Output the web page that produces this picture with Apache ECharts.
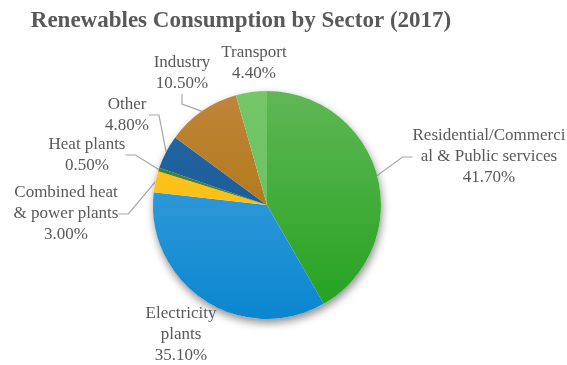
<!DOCTYPE html>
<html>
<head>
<meta charset="utf-8">
<script src="https://cdn.jsdelivr.net/npm/echarts@6/dist/echarts.min.js"></script>
<style>
  html, body { margin: 0; padding: 0; background: #ffffff; }
  #chart { width: 567px; height: 365px; }
</style>
</head>
<body>
<div id="chart"></div>
<script>
// Renewables consumption by sector, 2017 (share of total, %)
const sectors = [
  'Residential/Commerci\nal & Public services',
  'Electricity\nplants',
  'Combined heat\n& power plants',
  'Heat plants',
  'Other',
  'Industry',
  'Transport'
];
const shares = [41.7, 35.1, 3.0, 0.5, 4.8, 10.5, 4.4];

// Slice colours: [top, bottom] of a soft vertical shading
const sliceColors = [
  ['#5fb755', '#22a11d'],
  ['#4ba6df', '#0a86cf'],
  ['#ffc82a', '#f5b800'],
  ['#4a8a3a', '#3a7528'],
  ['#2466a3', '#15568f'],
  ['#c0853a', '#a56f00'],
  ['#75c76a', '#62bd57']
];

// Where each label block sits (centre of the text block, px)
const labelSpots = [
  [489, 157], [181, 335], [66, 214], [87, 155], [127, 115], [182, 73], [254, 63]
];
const showLine = [true, false, true, true, true, true, false];

const cx = 267, cy = 205, r = 114;

const chart = echarts.init(document.getElementById('chart'), null, { renderer: 'canvas' });

const data = sectors.map((name, i) => ({
  name: name,
  value: shares[i],
  itemStyle: {
    color: new echarts.graphic.LinearGradient(0, cy - r, 0, cy + r, [
      { offset: 0, color: sliceColors[i][0] },
      { offset: 1, color: sliceColors[i][1] }
    ], true)
  },
  labelLine: { show: showLine[i] }
}));

chart.setOption({
  animation: false,
  title: {
    text: 'Renewables Consumption by Sector (2017)',
    left: 236,
    top: 5,
    textAlign: 'center',
    textStyle: {
      fontFamily: 'Liberation Serif',
      fontWeight: 'bold',
      fontSize: 23,
      color: '#595959'
    }
  },
  series: [
    {
      // soft drop shadow beneath the pie
      type: 'pie',
      silent: true,
      center: [cx, cy],
      radius: r,
      label: { show: false },
      labelLine: { show: false },
      itemStyle: {
        color: '#ffffff',
        shadowBlur: 9,
        shadowOffsetX: 1,
        shadowOffsetY: 4,
        shadowColor: 'rgba(0,0,0,0.45)'
      },
      data: [{ value: 1, name: '' }]
    },
    {
      type: 'pie',
      center: [cx, cy],
      radius: r,
      startAngle: 90,
      clockwise: true,
      avoidLabelOverlap: false,
      itemStyle: { borderWidth: 0 },
      label: {
        show: true,
        position: 'outside',
        fontFamily: 'Liberation Serif',
        fontSize: 17,
        lineHeight: 21,
        color: '#595959',
        align: 'center',
        formatter: p => p.name + '\n' + p.value.toFixed(2) + '%'
      },
      labelLine: {
        show: true,
        length: 12,
        length2: 10,
        lineStyle: { color: '#a6a6a6', width: 1.2 }
      },
      labelLayout: p => {
        const s = labelSpots[p.dataIndex];
        return { x: s[0], y: s[1], align: 'center', verticalAlign: 'middle' };
      },
      data: data
    }
  ]
});
</script>
</body>
</html>
